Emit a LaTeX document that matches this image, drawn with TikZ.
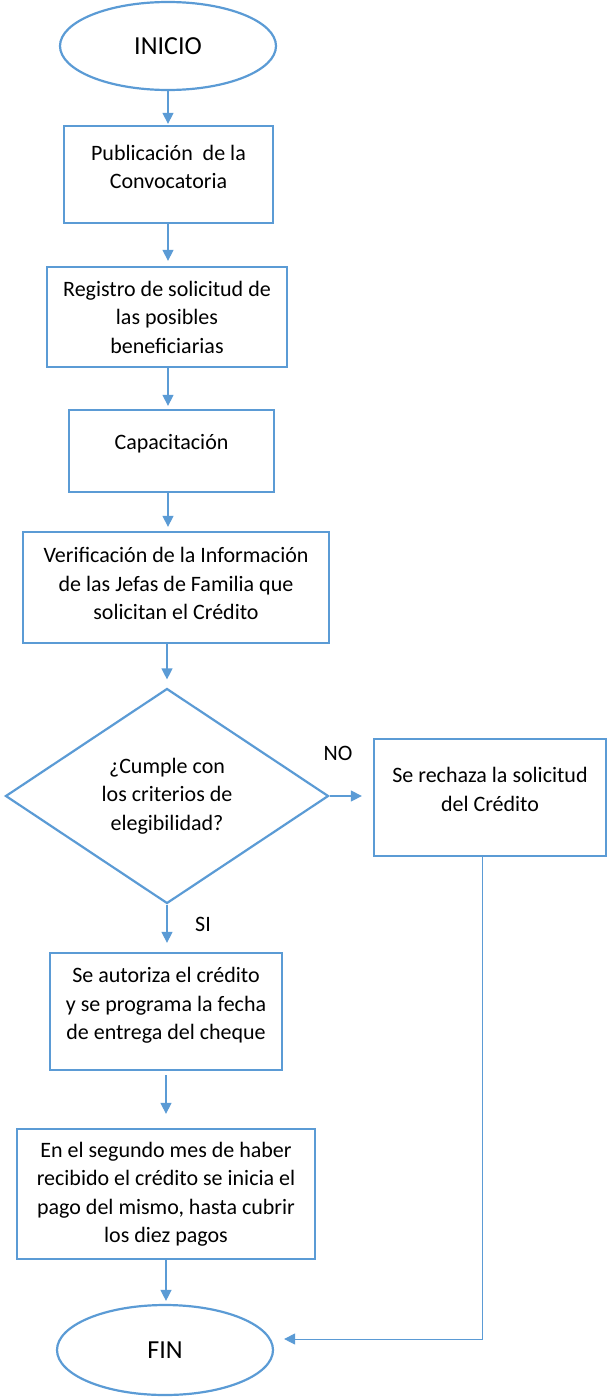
\documentclass[tikz,border=0pt]{standalone}
\usepackage{fontspec}
\setmainfont{Carlito}
\usetikzlibrary{shapes.geometric,arrows.meta}

\definecolor{lineblue}{HTML}{5B9BD5}

\begin{document}
\begin{tikzpicture}[x=1pt, y=-1pt,
  every node/.style = {font=\fontsize{22}{28.5}\selectfont, align=center, inner sep=0pt},
  box/.style = {shape=rectangle, draw=lineblue, line width=2.3pt},
  term/.style = {shape=ellipse, draw=lineblue, line width=2.2pt, font=\fontsize{26}{30}\selectfont},
  decision/.style = {shape=diamond, draw=lineblue, line width=2.2pt},
  arr/.style = {draw=lineblue, line width=1.3pt, -{Triangle[length=11pt,width=11pt]}}]
  \useasboundingbox (0,0) rectangle (608,1397);

  \node[term, minimum width=216pt, minimum height=88pt] (inicio) at (168,46) {INICIO};
  \node[box, minimum width=209pt, minimum height=97pt, text depth=15pt] (pub) at (168.5,174.5)
    {Publicación\ \ de la\\Convocatoria};
  \node[box, minimum width=240pt, minimum height=100pt] (reg) at (167,317)
    {Registro de solicitud de\\las posibles\\beneficiarias};
  \node[box, minimum width=205pt, minimum height=82pt, text depth=18pt] (cap) at (171.5,451)
    {Capacitación};
  \node[box, minimum width=306pt, minimum height=111pt, text depth=8pt] (ver) at (176,587.5)
    {Verificación de la Información\\de las Jefas de Familia que\\solicitan el Crédito};
  \node[decision, minimum width=323pt, minimum height=215pt] (dec) at (167,796)
    {¿Cumple con\\los criterios de\\elegibilidad?};
  \node[box, minimum width=232pt, minimum height=117pt, text depth=16pt] (rech) at (490,797.5)
    {Se rechaza la solicitud\\del Crédito};
  \node[box, minimum width=232pt, minimum height=117pt, text depth=16pt] (aut) at (166,1011.5)
    {Se autoriza el crédito\\y se programa la fecha\\de entrega del cheque};
  \node[box, minimum width=298pt, minimum height=130pt] (pago) at (166,1194)
    {En el segundo mes de haber\\recibido el crédito se inicia el\\pago del mismo, hasta cubrir\\los diez pagos};
  \node[term, minimum width=216pt, minimum height=90pt] (fin) at (165,1350) {FIN};

  \node (no) at (338,753) {NO};
  \node (si) at (203,924) {SI};

  \draw[arr, shorten >=1pt] (inicio.south) -- (pub.north -| inicio.south);
  \draw[arr, shorten >=5pt] (pub.south -| inicio) -- (reg.north -| inicio);
  \draw[arr, shorten >=3pt] (reg.south -| inicio) -- (cap.north -| inicio);
  \draw[arr, shorten >=4pt] (cap.south -| inicio) -- (ver.north -| inicio);
  \draw[arr, shorten >=8pt] (ver.south -| dec) -- (dec.north);
  \draw[arr, shorten >=9pt] (dec.south) -- (aut.north -| dec.south);
  \draw[arr, shorten <=4pt, shorten >=14pt] (aut.south) -- (pago.north);
  \draw[arr, shorten >=3pt] (pago.south) -- (fin.north -| pago.south);
  \draw[arr, shorten >=11pt] (dec.east) -- (dec.east -| rech.west);
  \draw[arr, line width=1pt, shorten >=10pt] ([xshift=-8pt]rech.south) |- ([yshift=11pt]fin.east);
\end{tikzpicture}
\end{document}
